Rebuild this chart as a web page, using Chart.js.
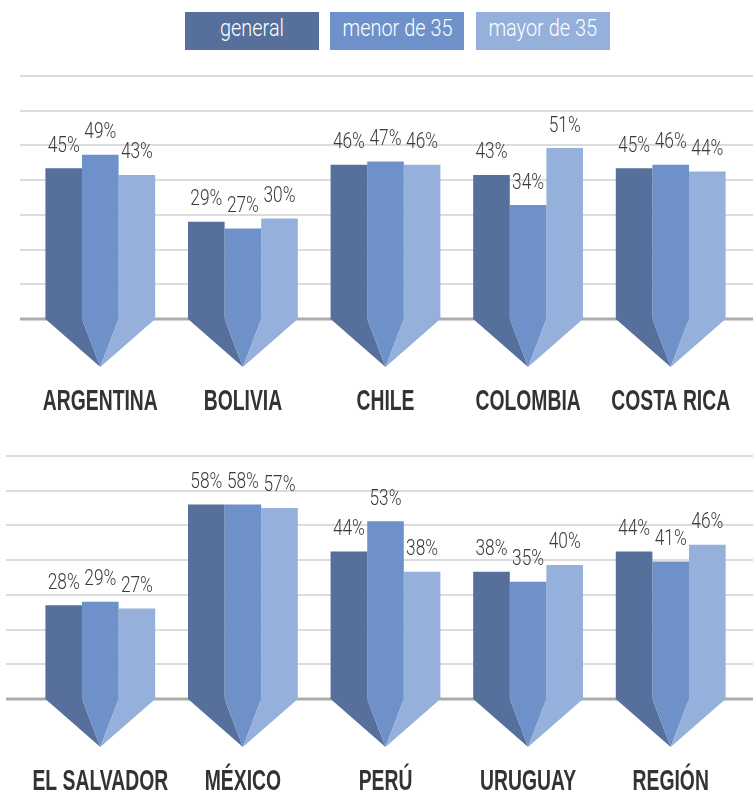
<!DOCTYPE html>
<html>
<head>
<meta charset="utf-8">
<script src="https://cdn.jsdelivr.net/npm/chart.js@4"></script>
<style>
html, body { margin: 0; padding: 0; background: #fff; overflow: hidden; width: 753px; height: 793px; }
.legend-box { position: absolute; top: 12px; width: 134px; height: 38px; line-height: 38px; text-align: center; color: #fff; font: 300 23px Roboto, 'DejaVu Sans', sans-serif; }
.legend-box span { display: inline-block; position: relative; top: 3px; }
canvas { position: absolute; left: 0; }
</style>
</head>
<body>
<div id="legend"></div>
<canvas id="chartTop" width="753" height="360" style="top:60px"></canvas>
<canvas id="chartBottom" width="753" height="360" style="top:440px"></canvas>
<script>
var seriesNames = ['general', 'menor de 35', 'mayor de 35'];

var categoriesTop = ['ARGENTINA', 'BOLIVIA', 'CHILE', 'COLOMBIA', 'COSTA RICA'];
var generalTop = [45, 29, 46, 43, 45];
var menorTop = [49, 27, 47, 34, 46];
var mayorTop = [43, 30, 46, 51, 44];

var categoriesBottom = ['EL SALVADOR', 'MÉXICO', 'PERÚ', 'URUGUAY', 'REGIÓN'];
var generalBottom = [28, 58, 44, 38, 44];
var menorBottom = [29, 58, 53, 35, 41];
var mayorBottom = [27, 57, 38, 40, 46];

var colors = ['#566f9b', '#6f91c9', '#95b0db'];
var yMax = 72.5;
var gridCount = 7;

var valueFont = '300 22px Roboto, "DejaVu Sans", sans-serif';
var labelFont = '700 30px "Liberation Sans Narrow", "Liberation Sans", sans-serif';

// legend (html)
var legendLeft = [185, 330, 476];
var mctx = document.createElement('canvas').getContext('2d');
mctx.font = '300 23px Roboto, "DejaVu Sans", sans-serif';
var legendScale = 110 / mctx.measureText('menor de 35').width;
seriesNames.forEach(function (name, i) {
    var box = document.createElement('div');
    box.className = 'legend-box';
    box.style.left = legendLeft[i] + 'px';
    box.style.background = colors[i];
    var s = document.createElement('span');
    s.textContent = name;
    s.style.transform = 'scaleX(' + legendScale + ')';
    box.appendChild(s);
    document.getElementById('legend').appendChild(box);
});

function squeezedText(ctx, text, x, y, sx) {
    ctx.save();
    ctx.translate(x, y);
    ctx.scale(sx, 1);
    ctx.fillText(text, 0, 0);
    ctx.restore();
}

var arrowBars = {
    id: 'arrowBars',
    beforeDatasetsDraw: function (chart, args, opts) {
        var ctx = chart.ctx, y = chart.scales.y;
        ctx.save();
        for (var i = 0; i <= gridCount; i++) {
            var py = Math.round(y.getPixelForValue(i * yMax / gridCount));
            ctx.beginPath();
            ctx.strokeStyle = i === 0 ? '#acacac' : '#d0d0d0';
            ctx.lineWidth = i === 0 ? 3 : 1.5;
            ctx.moveTo(opts.gridLeft, py);
            ctx.lineTo(chart.width, py);
            ctx.stroke();
        }
        ctx.restore();
    },
    afterDatasetsDraw: function (chart, args, opts) {
        var ctx = chart.ctx;
        var base = chart.scales.y.getPixelForValue(0);
        var metas = [0, 1, 2].map(function (d) { return chart.getDatasetMeta(d); });
        ctx.save();
        ctx.font = valueFont;
        var valScale = 32 / ctx.measureText('45%').width;
        ctx.font = labelFont;
        var labScale = 115 / ctx.measureText('ARGENTINA').width;

        chart.data.labels.forEach(function (label, i) {
            var b0 = metas[0].data[i], b1 = metas[1].data[i], b2 = metas[2].data[i];
            var edges = [b0.x - b0.width / 2, b0.x + b0.width / 2, b2.x - b2.width / 2, b2.x + b2.width / 2];
            var apexX = b1.x, apexY = base + 48;
            // arrow point under each group
            for (var k = 0; k < 3; k++) {
                ctx.beginPath();
                ctx.moveTo(edges[k], base);
                ctx.lineTo(edges[k + 1], base);
                ctx.lineTo(apexX, apexY);
                ctx.closePath();
                ctx.fillStyle = colors[k];
                ctx.fill();
            }
            // value labels
            ctx.fillStyle = '#3a3a3a';
            ctx.font = valueFont;
            ctx.textAlign = 'center';
            ctx.textBaseline = 'alphabetic';
            [b0, b1, b2].forEach(function (bar, d) {
                var v = chart.data.datasets[d].data[i];
                squeezedText(ctx, v + '%', bar.x, bar.y - 16.5, valScale);
            });
            // category label
            ctx.fillStyle = '#333333';
            ctx.font = labelFont;
            squeezedText(ctx, label, apexX, base + 91, labScale);
        });
        ctx.restore();
    }
};

function makeChart(id, labels, a, b, c, gridLeft) {
    return new Chart(document.getElementById(id).getContext('2d'), {
        type: 'bar',
        data: {
            labels: labels,
            datasets: [a, b, c].map(function (vals, d) {
                return {
                    label: seriesNames[d],
                    data: vals,
                    backgroundColor: colors[d],
                    borderWidth: 0,
                    barPercentage: 1,
                    categoryPercentage: 0.77
                };
            })
        },
        options: {
            responsive: false,
            animation: false,
            layout: { padding: { top: 16, bottom: 101, left: 29, right: 11 } },
            scales: {
                x: { display: false },
                y: { display: false, min: 0, max: yMax }
            },
            plugins: {
                legend: { display: false },
                tooltip: { enabled: false },
                arrowBars: { gridLeft: gridLeft }
            }
        },
        plugins: [arrowBars]
    });
}

makeChart('chartTop', categoriesTop, generalTop, menorTop, mayorTop, 20);
makeChart('chartBottom', categoriesBottom, generalBottom, menorBottom, mayorBottom, 6);
</script>
</body>
</html>
